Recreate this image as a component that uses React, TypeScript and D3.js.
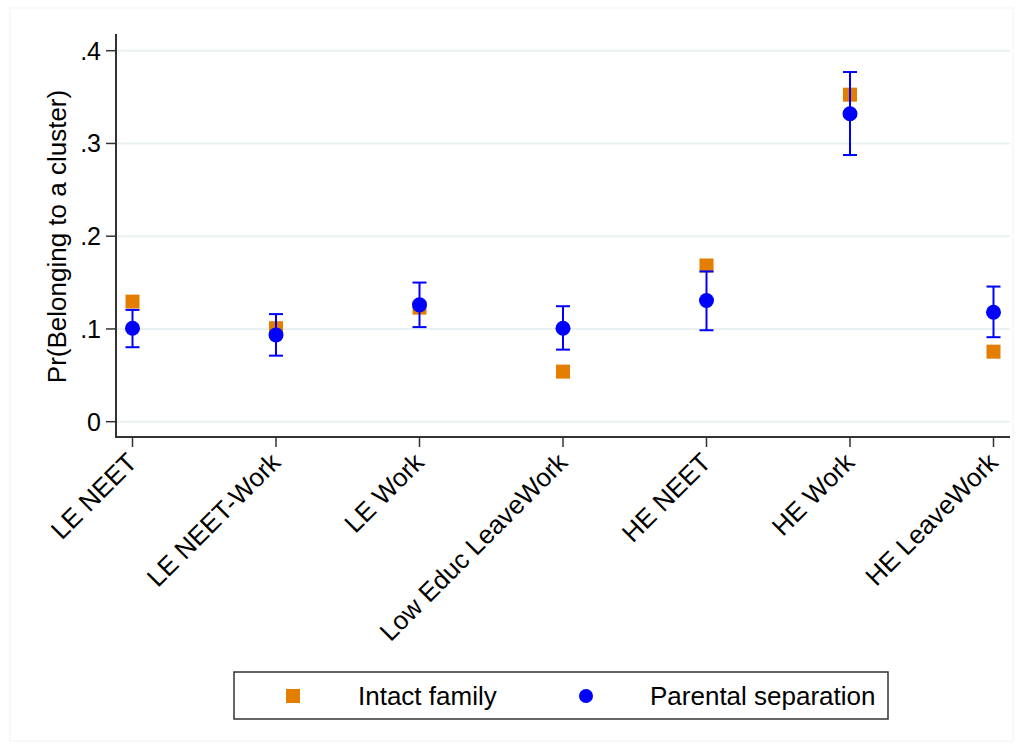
import React from "react";
import * as d3 from "d3";

const clusters = ["LE NEET", "LE NEET-Work", "LE Work", "Low Educ LeaveWork", "HE NEET", "HE Work", "HE LeaveWork"];
const intactValues = [0.1295, 0.1008, 0.123, 0.054, 0.1684, 0.3526, 0.0755];
const separationValues = [0.1008, 0.0936, 0.126, 0.1008, 0.1306, 0.332, 0.118];
const separationLow = [0.0803, 0.0712, 0.102, 0.0777, 0.0986, 0.2875, 0.0911];
const separationHigh = [0.1205, 0.116, 0.15, 0.1245, 0.162, 0.377, 0.1457];
const yTicks = [0, 0.1, 0.2, 0.3, 0.4];
const yTickLabels = ["0", ".1", ".2", ".3", ".4"];

const ORANGE = "#e37e00";
const BLUE = "#0000ff";
const FONT = "'Liberation Sans', Arial, sans-serif";

const App = () => {
    const width = 1023;
    const height = 749;
    const left = 116;
    const right = 1010;
    const top = 34;
    const bottom = 437;

    const x = d3.scalePoint<string>().domain(clusters).range([left, right]).padding(0.115);
    const y = d3.scaleLinear().domain([-0.0165, 0.418]).range([bottom, top]);

    return (
        <svg
            width={width}
            height={height}
            style={{ position: "absolute", left: 0, top: 0, background: "#fff" }}
            fontFamily={FONT}
        >
            <rect x={10} y={8} width={1003} height={733} fill="none" stroke="#eef2f4" strokeWidth={1} />

            {/* grid */}
            {yTicks.map((t) => (
                <line key={"g" + t} x1={left} x2={right} y1={y(t)} y2={y(t)} stroke="#eaf1f3" strokeWidth={2} />
            ))}

            {/* axes */}
            <line x1={left} x2={left} y1={top} y2={bottom} stroke="#333" strokeWidth={2} />
            <line x1={left - 1} x2={right} y1={bottom} y2={bottom} stroke="#333" strokeWidth={2} />
            {yTicks.map((t, i) => (
                <g key={"yt" + t}>
                    <line x1={left - 10} x2={left} y1={y(t)} y2={y(t)} stroke="#333" strokeWidth={1.5} />
                    <text x={left - 15} y={y(t)} dy="0.36em" textAnchor="end" fontSize={25} fill="#000">
                        {yTickLabels[i]}
                    </text>
                </g>
            ))}
            <text
                transform={`translate(66,${(top + bottom) / 2 + 1}) rotate(-90)`}
                textAnchor="middle"
                fontSize={26}
                fill="#000"
            >
                Pr(Belonging to a cluster)
            </text>
            {clusters.map((c) => (
                <g key={"xt" + c}>
                    <line x1={x(c)} x2={x(c)} y1={bottom} y2={bottom + 10} stroke="#333" strokeWidth={1.5} />
                    <text
                        transform={`translate(${(x(c) as number) + 6},${bottom + 27}) rotate(-45)`}
                        textAnchor="end"
                        fontSize={26}
                        fill="#000"
                    >
                        {c}
                    </text>
                </g>
            ))}

            {/* intact family */}
            {clusters.map((c, i) => (
                <rect
                    key={"sq" + c}
                    x={(x(c) as number) - 7}
                    y={y(intactValues[i]) - 7}
                    width={14}
                    height={14}
                    fill={ORANGE}
                />
            ))}

            {/* parental separation CI */}
            {clusters.map((c, i) => {
                const cx = x(c) as number;
                return (
                    <g key={"ci" + c} stroke={BLUE} strokeWidth={2}>
                        <line x1={cx} x2={cx} y1={y(separationLow[i])} y2={y(separationHigh[i])} />
                        <line x1={cx - 7} x2={cx + 7} y1={y(separationLow[i])} y2={y(separationLow[i])} />
                        <line x1={cx - 7} x2={cx + 7} y1={y(separationHigh[i])} y2={y(separationHigh[i])} />
                    </g>
                );
            })}
            {clusters.map((c, i) => (
                <circle key={"pt" + c} cx={x(c)} cy={y(separationValues[i])} r={7.5} fill={BLUE} />
            ))}

            {/* legend */}
            <rect x={234} y={672} width={654} height={47} fill="#fff" stroke="#333" strokeWidth={1.5} />
            <rect x={286} y={689} width={14} height={14} fill={ORANGE} />
            <text x={358} y={705} fontSize={26} fill="#000">Intact family</text>
            <circle cx={586} cy={696} r={7} fill={BLUE} />
            <text x={650} y={705} fontSize={26} fill="#000">Parental separation</text>
        </svg>
    );
};

export default App;
